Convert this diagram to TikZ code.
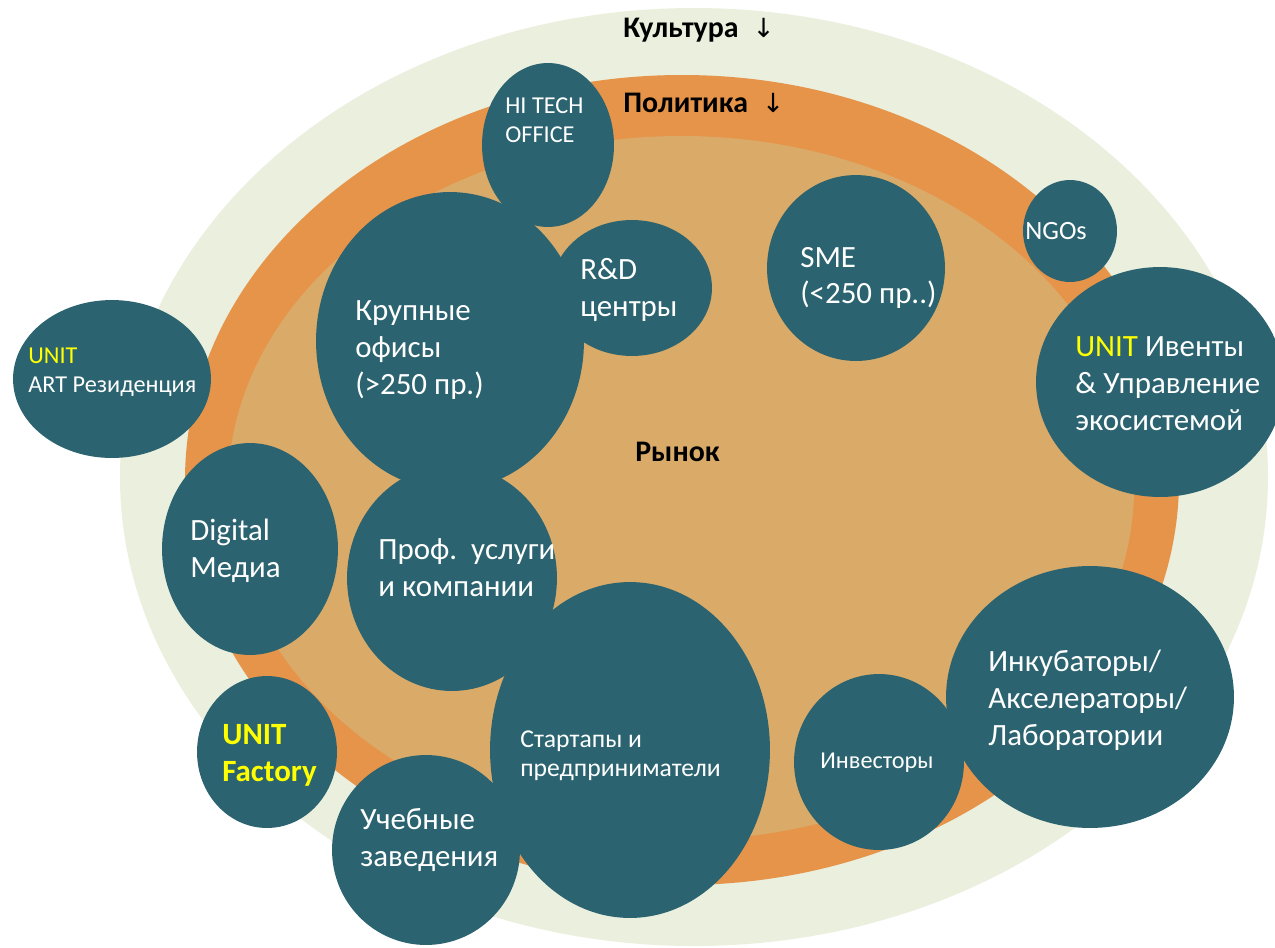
\documentclass[tikz,border=0pt]{standalone}
\usepackage{fontspec}
\setmainfont{Carlito}
\newfontfamily\arrowfont{DejaVu Sans}
\usetikzlibrary{shapes.geometric}
\definecolor{cultureC}{HTML}{EAEFDE}
\definecolor{policyC}{HTML}{E6944A}
\definecolor{marketC}{HTML}{D9AA68}
\definecolor{bubbleC}{HTML}{2B6470}
\definecolor{unitC}{HTML}{FFFF00}

\begin{document}
\begin{tikzpicture}[x=0.02cm,y=-0.02cm,
  bub/.style 2 args={ellipse, fill=bubbleC, inner sep=0pt, minimum width=#1*0.04cm, minimum height=#2*0.04cm},
  lbl/.style={text=white, align=left, inner sep=0pt, anchor=west},
  big/.style={font=\fontsize{17.6}{21}\selectfont},
  small/.style={font=\fontsize{13.8}{16.4}\selectfont},
  ttl/.style={font=\fontsize{17}{20}\selectfont\bfseries, anchor=west, inner sep=0pt}]

\useasboundingbox (0,0) rectangle (1275,947);

% Rings: culture, policy, market
\fill[cultureC] (694,477) ellipse [x radius=574, y radius=469];
\fill[policyC] (682,480) ellipse [x radius=497, y radius=405];
\fill[marketC] (681,488) ellipse [x radius=453, y radius=352];

% Ring titles
\node[ttl] (culture) at (623,30) {Культура\hspace{8pt}{\arrowfont\mdseries\fontsize{15}{15}\selectfont ↓}};
\node[ttl] (policy) at (623,103) {Политика\hspace{8pt}{\arrowfont\mdseries\fontsize{15}{15}\selectfont ↓}};
\node[ttl] (market) at (635,452) {Рынок};

% Bubbles
\node[bub={66}{82}] (hitech) at (548,145) {};
\node[bub={134}{149}] (large) at (450,341) {};
\node[bub={80}{68}] (rnd) at (632,288) {};
\node[bub={89}{93}] (sme) at (856,268) {};
\node[bub={47}{51}] (ngo) at (1070,231) {};
\node[bub={124}{115}] (events) at (1160,382) {};
\node[bub={99}{79}] (art) at (112,379) {};
\node[bub={88}{106}] (digital) at (250,549) {};
\node[bub={105}{113}] (services) at (452,578) {};
\node[bub={140}{168}] (startups) at (630,750) {};
\node[bub={70}{76}] (factory) at (267,752) {};
\node[bub={94}{95}] (edu) at (426,850) {};
\node[bub={85}{88}] (investors) at (879,762) {};
\node[bub={144}{131}] (incub) at (1090,697) {};

% Bubble labels
\node[lbl, small] (hitechT) at (505,120) {HI TECH\\OFFICE};
\node[lbl, big] (largeT) at (355,350) {Крупные\\офисы\\(>250 пр.)};
\node[lbl, big] (rndT) at (580,290) {R\&D\\центры};
\node[lbl, big] (smeT) at (800,278) {SME\\(<250 пр..)};
\node[lbl, small, font=\fontsize{15}{18}\selectfont] (ngoT) at (1025,231) {NGOs};
\node[lbl, big] (eventsT) at (1075,384) {{\color{unitC}UNIT} Ивенты\\\& Управление\\экосистемой};
\node[lbl, small] (artT) at (28,372) {{\color{unitC}UNIT}\\ART Резиденция};
\node[lbl, big] (digitalT) at (190,551) {Digital\\Медиа};
\node[lbl, big] (servicesT) at (378,568) {Проф.\ \ услуги\\и компании};
\node[lbl, small, font=\fontsize{14.6}{16.4}\selectfont] (startupsT) at (520,756) {Стартапы и\\предприниматели};
\node[lbl, big, font=\fontsize{17.6}{21}\selectfont\bfseries, text=unitC] (factoryT) at (222,755) {UNIT\\Factory};
\node[lbl, small] (investorsT) at (820,763) {Инвесторы};
\node[lbl, big] (eduT) at (360,840) {Учебные\\заведения};
\node[lbl, big] (incubT) at (988,700) {Инкубаторы/\\Акселераторы/\\Лаборатории};

\end{tikzpicture}
\end{document}
